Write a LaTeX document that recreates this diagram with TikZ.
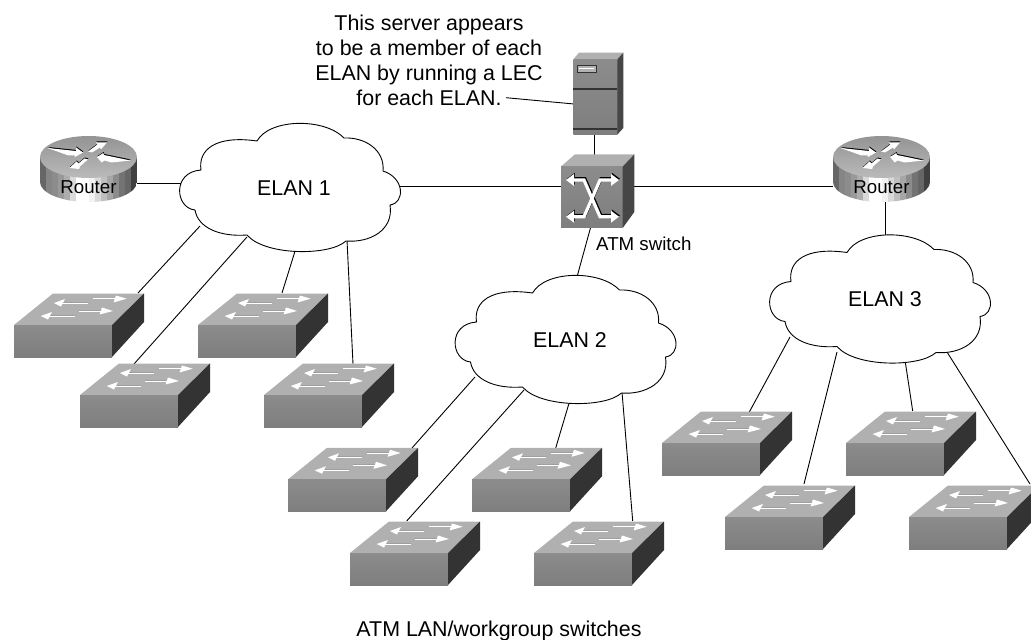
\documentclass[tikz,border=0pt]{standalone}
\usepackage{fontspec}
\setmainfont{Liberation Sans}
\definecolor{topgray}{HTML}{B0B0B0}
\definecolor{frontA}{HTML}{8C8C8C}
\definecolor{frontB}{HTML}{7E7E7E}
\definecolor{sidedark}{HTML}{333333}
\definecolor{cubeside}{HTML}{464646}
\newcommand{\rtrshapes}{
  (-41,-9) -- (-12.5,-6) -- (-12.5,-9.5) -- (-5.5,-4.5) -- (-13.5,0) -- (-14,-1.5) -- (-20,-1.5) -- cycle
  (8.5,0) -- (14.8,-4) -- (15.5,-2) -- (42,3.5) -- (23,5.5) -- (16,3.5) -- (13.2,5.5) -- cycle
  (18.5,-14.5) -- (7.5,-14.5) -- (9,-12.5) -- (-0.5,-5.5) -- (3.5,-4.5) -- (11.5,-9.5) -- (12.5,-7.5) -- cycle
  (-19,11) -- (-12,4.5) -- (-10,6.5) -- (-4,1.5) -- (-0.5,2.5) -- (-7.5,8.5) -- (-9.5,12) -- cycle
}
\newcommand{\atmlines}{
  (570,180) -- (584,180) -- (600,216.7) -- (615,216.7)
  (570,216.7) -- (584,216.7) -- (600,180) -- (615,180)
}
\newcommand{\atmheads}{
  (566,180) -- (574,174) -- (574,186) -- cycle
  (566,216.7) -- (574,210.7) -- (574,222.7) -- cycle
  (619,180) -- (611,174) -- (611,186) -- cycle
  (619,216.7) -- (611,210.7) -- (611,222.7) -- cycle
}
\tikzset{
  lbl/.style={font=\fontsize{21.4bp}{25bp}\selectfont,inner sep=0pt,text=black},
  smalllbl/.style={font=\fontsize{18.7bp}{22bp}\selectfont,inner sep=0pt,text=black},
  link/.style={draw=black,line width=0.9bp},
  cloudline/.style={draw=black,fill=white,line width=0.9bp},
  cloudshape/.pic={
    \path[cloudline] (201,170) .. controls (198,150) and (215,135) .. (257,141)
      .. controls (270,118) and (325,118) .. (344,138)
      .. controls (365,137) and (385,150) .. (383,171)
      .. controls (405,178) and (405,203) .. (390,205)
      .. controls (394,230) and (370,243) .. (346,241)
      .. controls (330,256) and (265,256) .. (247,235)
      .. controls (220,237) and (198,228) .. (195,210)
      .. controls (175,208) and (172,172) .. (201,170) -- cycle;
  },
  lanswitch/.pic={
    \fill[topgray] (0,0) -- (39,-31.5) -- (130,-31.5) -- (98,0) -- cycle;
    \shade[top color=frontA,bottom color=frontB] (0,0) rectangle (98,32);
    \fill[sidedark] (98,0) -- (130,-31.5) -- (130,-3) -- (98,32) -- cycle;
    \draw[black!38,line width=0.6bp] (48,-22.9) -- (74,-22.9) (79,-27.2) -- (102,-27.2)
       (35,-9.9) -- (61,-9.9) (65,-14.9) -- (88,-14.9);
    \draw[white,line width=1bp] (48,-22) -- (74,-22) (79,-26.3) -- (104,-26.3)
       (35,-9) -- (61,-9) (65,-14) -- (90,-14);
    \fill[white] (40,-22) -- (51,-26) -- (47,-18.5) -- cycle
       (112.7,-26.3) -- (102,-29.5) -- (99.5,-22.5) -- cycle
       (26.7,-9) -- (38,-13) -- (34,-5.5) -- cycle
       (99,-14) -- (88,-17.5) -- (85.5,-10.5) -- cycle;
  },
  routericon/.pic={
    \begin{scope}
      \clip (-48.5,0) -- (-48.5,25) arc[start angle=180,end angle=0,x radius=48.5,y radius=20] -- (48.5,0) -- cycle;
      \foreach \v [count=\i] in {40,52,55,60,68,85,100,100,95,85,75,65,55,45,40,25}{
        \pgfmathsetmacro{\xa}{-48.5+(\i-1)*6.0625}
        \pgfmathsetmacro{\xb}{\xa+6.3}
        \fill[white!\v!black] (\xa,-1) rectangle (\xb,46);
      }
    \end{scope}
    \shade[top color=black!42,bottom color=black!27] (0,0) ellipse [x radius=48.5,y radius=21];
    \fill[black,shift={(0.4,-1)}] \rtrshapes;
    \fill[white] \rtrshapes;
  },
  x=1bp,y=-1bp
}
\begin{document}
\begin{tikzpicture}
\useasboundingbox (0,0) rectangle (1031,640);
\clip (0,0) rectangle (1031,640);
% connection points
\coordinate (r1port) at (137,183.5);
\coordinate (c1west) at (182,183.5);
\coordinate (c1east) at (399,186);
\coordinate (atmwest) at (561,186);
\coordinate (atmeast) at (634,186);
\coordinate (r2west) at (833,186);
\coordinate (r2south) at (885,200);
\coordinate (c3north) at (885,238);
\coordinate (srvsouth) at (594.3,134);
\coordinate (atmnorth) at (594.3,156);
\coordinate (srvwest) at (574,104);
\coordinate (notepoint) at (506,97.7);
\coordinate (atmsouth) at (591,226);
\coordinate (c2north) at (576.7,278);
\coordinate (c1a) at (200,226); \coordinate (s1p) at (138,293);
\coordinate (c1b) at (247,237); \coordinate (s2p) at (134,364);
\coordinate (c1c) at (296,248); \coordinate (s3p) at (282,293);
\coordinate (c1d) at (347,240); \coordinate (s4p) at (353,364);
\coordinate (c2a) at (475,377); \coordinate (s5p) at (412,448);
\coordinate (c2b) at (524,390); \coordinate (s6p) at (406.7,521);
\coordinate (c2c) at (570,400); \coordinate (s7p) at (555.7,448);
\coordinate (c2d) at (622,392); \coordinate (s8p) at (632.7,521);
\coordinate (c3a) at (790,337); \coordinate (s9p) at (749.3,412);
\coordinate (c3b) at (837,352); \coordinate (s10p) at (804,484);
\coordinate (c3c) at (905,360); \coordinate (s11p) at (912.7,411);
\coordinate (c3d) at (947,352); \coordinate (s12p) at (1030,484);
% connectors
\draw[link] (r1port) -- (c1west);
\draw[link] (c1east) -- (atmwest);
\draw[link] (atmeast) -- (r2west);
\draw[link] (r2south) -- (c3north);
\draw[link] (srvsouth) -- (atmnorth);
\draw[link] (notepoint) -- (srvwest);
\draw[link] (atmsouth) -- (c2north);
\draw[link] (c1a) -- (s1p);
\draw[link] (c1b) -- (s2p);
\draw[link] (c1c) -- (s3p);
\draw[link] (c1d) -- (s4p);
\draw[link] (c2a) -- (s5p);
\draw[link] (c2b) -- (s6p);
\draw[link] (c2c) -- (s7p);
\draw[link] (c2d) -- (s8p);
\draw[link] (c3a) -- (s9p);
\draw[link] (c3b) -- (s10p);
\draw[link] (c3c) -- (s11p);
\draw[link] (c3d) -- (s12p);
% clouds
\pic (cloud1) at (0,0) {cloudshape};
\pic (cloud2) at (275.5,152) {cloudshape};
\pic (cloud3) at (590,111.5) {cloudshape};
\node[lbl,anchor=center] (elan1) at (294,188) {ELAN 1};
\node[lbl,anchor=center] (elan2) at (570,340) {ELAN 2};
\node[lbl,anchor=center] (elan3) at (885,299) {ELAN 3};
% LAN switches
\pic (s1) at (14,325) {lanswitch};
\pic (s2) at (80,395) {lanswitch};
\pic (s3) at (198,325) {lanswitch};
\pic (s4) at (264,395) {lanswitch};
\pic (s5) at (288,479.3) {lanswitch};
\pic (s6) at (472,479.3) {lanswitch};
\pic (s7) at (350,553) {lanswitch};
\pic (s8) at (534,553) {lanswitch};
\pic (s9) at (662,443) {lanswitch};
\pic (s10) at (846,443) {lanswitch};
\pic (s11) at (725,517) {lanswitch};
\pic (s12) at (909,517) {lanswitch};
% routers
\pic (r1) at (88.5,157) {routericon};
\pic (r2) at (881.5,157) {routericon};
\node[smalllbl,anchor=base] (r1label) at (88.5,194) {Router};
\node[smalllbl,anchor=base] (r2label) at (881.5,194) {Router};
% server
\fill[topgray] (573.3,59.3) -- (579,52.7) -- (623.3,52.7) -- (617.3,59.3) -- cycle;
\shade[top color=frontA,bottom color=frontB] (573.3,59.3) rectangle (617.3,134.7);
\fill[cubeside] (617.3,59.3) -- (623.3,52.7) -- (623.3,128) -- (617.3,134.7) -- cycle;
\draw[sidedark,line width=1.4bp] (573.3,89) -- (617.3,89) (573.3,129) -- (617.3,129);
\draw[sidedark,fill=black!30,line width=1bp] (577,65.3) rectangle (596.5,73);
\draw[white,line width=0.7bp] (579,68) -- (594,68);
% ATM switch
\fill[topgray] (561,166.5) -- (575,154.3) -- (634.3,154.3) -- (622.7,166.5) -- cycle;
\shade[top color=frontA,bottom color=frontB] (561,166.5) rectangle (622.7,228);
\fill[cubeside] (622.7,166.5) -- (634.3,154.3) -- (634.3,212) -- (622.7,228) -- cycle;
\begin{scope}[shift={(0.9,-1.2)}]
  \draw[black,line width=3.2bp] \atmlines;
  \fill[black] \atmheads;
\end{scope}
\draw[white,line width=3.2bp] \atmlines;
\fill[white] \atmheads;
% text
\node[smalllbl,anchor=base west] (atmlabel) at (596,251) {ATM switch};
\node[lbl,anchor=center,align=center] (note) at (429,60) {This server appears\\to be a member of each\\ELAN by running a LEC\\for each ELAN.};
\node[lbl,anchor=base] (bottomlabel) at (499,636.5) {ATM LAN/workgroup switches};
\end{tikzpicture}
\end{document}
